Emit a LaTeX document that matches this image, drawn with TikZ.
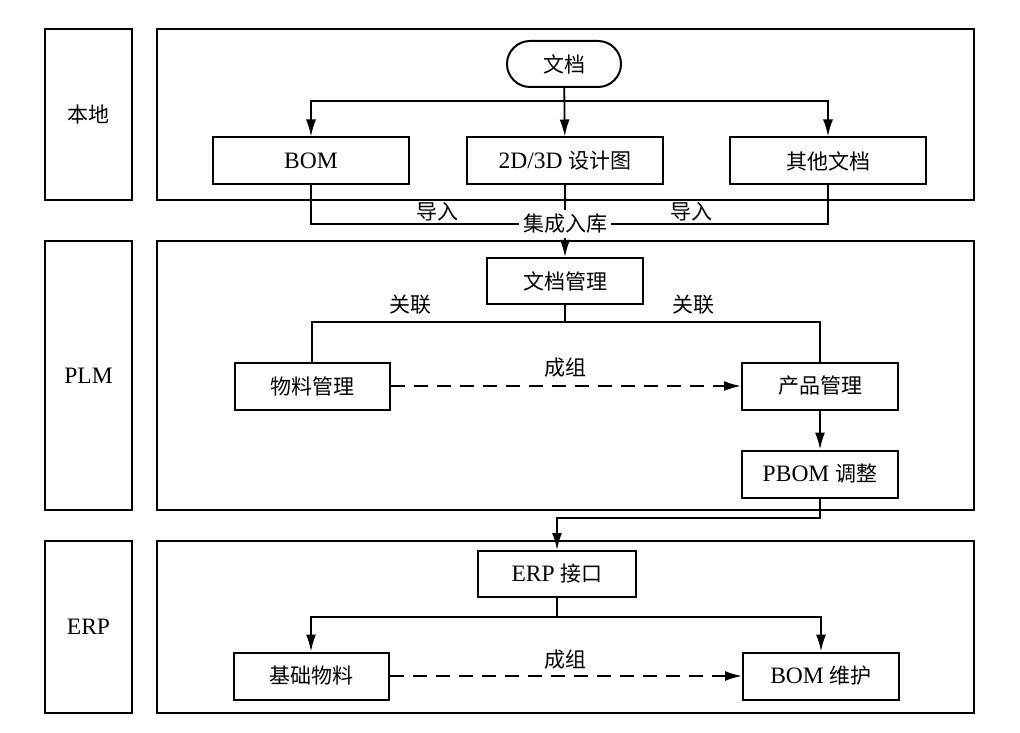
\documentclass[tikz,border=0pt]{standalone}
\usepackage{fontspec}
\setmainfont{Liberation Serif}[Scale=1.12]
\newfontfamily\cjk{Noto Sans CJK SC}
\usetikzlibrary{arrows.meta}

\begin{document}
\begin{tikzpicture}[
  x=0.5pt, y=-0.5pt,
  font=\fontsize{10.5}{12}\selectfont,
  frame/.style={draw, line width=1.2pt, minimum width=408.5pt},
  side/.style={draw, line width=1.2pt, minimum width=43.5pt},
  box/.style={draw, line width=1pt, minimum height=23.5pt, inner sep=0pt},
  flow/.style={-{Latex[length=8.5pt,width=5pt]}, line width=0.9pt},
  link/.style={line width=0.9pt},
  group/.style={flow, line width=1pt, dash pattern=on 7pt off 4.5pt},
  tag/.style={inner sep=1pt}
]
  \useasboundingbox (0,0) rectangle (1020,732);

  \node[side, minimum height=85.5pt] (local) at (88.5,114.5) {\cjk 本地};
  \node[side, minimum height=134.5pt] (plm) at (88.5,375.5) {PLM};
  \node[side, minimum height=86pt] (erp) at (88.5,627) {ERP};
  \node[frame, minimum height=85.5pt] (localframe) at (565.5,114.5) {};
  \node[frame, minimum height=134.5pt] (plmframe) at (565.5,375.5) {};
  \node[frame, minimum height=86pt] (erpframe) at (565.5,627) {};

  \node[box, rounded corners=11.5pt, minimum width=57pt, minimum height=23pt] (doc) at (564,64) {\cjk 文档};
  \node[box, minimum width=98pt] (bom) at (311,161) {BOM};
  \node[box, minimum width=98pt] (drawing) at (565,161) {2D/3D \cjk 设计图};
  \node[box, minimum width=98pt] (otherdoc) at (828,161) {\cjk 其他文档};
  \coordinate (docsplit) at (564,101);
  \draw[flow] (doc) -- (drawing);
  \draw[flow] (docsplit) -| (bom);
  \draw[flow] (docsplit) -| (otherdoc);

  \node[box, minimum width=78pt, minimum height=23pt] (docmgr) at (565,281) {\cjk 文档管理};
  \coordinate (merge) at (565,224);
  \draw[link] (bom) |- (merge);
  \draw[link] (otherdoc) |- (merge);
  \draw[flow] (drawing) -- (docmgr);
  \node[fill=white, inner sep=2pt] (intake) at (merge) {\cjk 集成入库};
  \node[tag] (importl) at (437,212) {\cjk 导入};
  \node[tag] (importr) at (691,212) {\cjk 导入};

  \node[box, minimum width=77.5pt] (matmgr) at (312,386) {\cjk 物料管理};
  \node[box, minimum width=78pt] (prodmgr) at (820,386) {\cjk 产品管理};
  \node[box, minimum width=78pt] (pbom) at (820,474) {PBOM \cjk 调整};
  \coordinate (docsplit2) at (565,322);
  \draw[link] (docmgr) -- (docsplit2);
  \draw[link] (docsplit2) -| (matmgr);
  \draw[link] (docsplit2) -| (prodmgr);
  \node[tag] (relatel) at (410,305) {\cjk 关联};
  \node[tag] (relater) at (693,305) {\cjk 关联};
  \draw[group] (matmgr) -- (prodmgr);
  \node[tag] (groupplm) at (565,368) {\cjk 成组};
  \draw[flow] (prodmgr) -- (pbom);

  \node[box, minimum width=79pt, minimum height=23pt] (erpif) at (557,574) {ERP \cjk 接口};
  \coordinate (pbomturn) at (557,518);
  \draw[flow] (pbom) |- (pbomturn) -- (erpif);

  \node[box, minimum width=77.5pt] (basemat) at (311,676) {\cjk 基础物料};
  \node[box, minimum width=78pt] (bommaint) at (821,676) {BOM \cjk 维护};
  \coordinate (erpsplit) at (557,617);
  \draw[link] (erpif) -- (erpsplit);
  \draw[flow] (erpsplit) -| (basemat);
  \draw[flow] (erpsplit) -| (bommaint);
  \draw[group] (basemat) -- (bommaint);
  \node[tag] (grouperp) at (565,660) {\cjk 成组};
\end{tikzpicture}
\end{document}
